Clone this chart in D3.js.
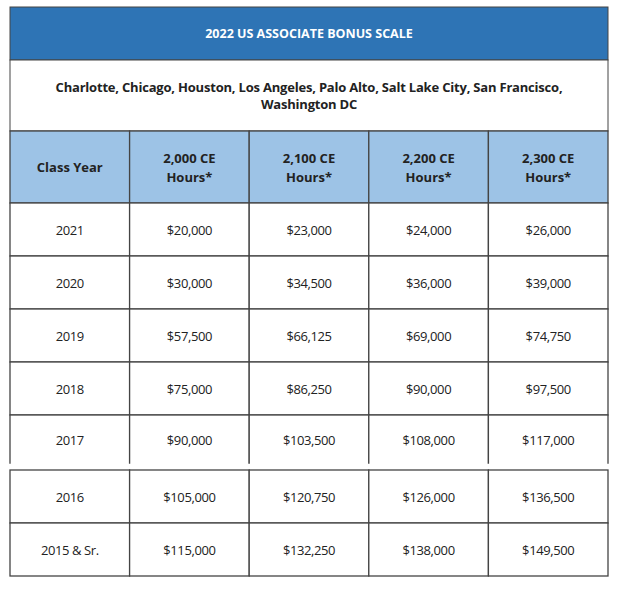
<!DOCTYPE html>
<html><head><meta charset="utf-8">
<script src="https://cdn.jsdelivr.net/npm/d3@7"></script>
<style>body{margin:0;background:#fff;} text{font-family:"Open Sans",sans-serif;fill:#222;}</style>
</head><body><svg id="svg"></svg>
<script>
const title = '2022 US ASSOCIATE BONUS SCALE';
const cities = ['Charlotte, Chicago, Houston, Los Angeles, Palo Alto, Salt Lake City, San Francisco,', 'Washington DC'];
const headers = [['Class Year'], ['2,000 CE', 'Hours*'], ['2,100 CE', 'Hours*'], ['2,200 CE', 'Hours*'], ['2,300 CE', 'Hours*']];
const classYears = ['2021', '2020', '2019', '2018', '2017', '2016', '2015 & Sr.'];
const bonus2000 = [20000, 30000, 57500, 75000, 90000, 105000, 115000];
const bonus2100 = [23000, 34500, 66125, 86250, 103500, 120750, 132250];
const bonus2200 = [24000, 36000, 69000, 90000, 108000, 126000, 138000];
const bonus2300 = [26000, 39000, 74750, 97500, 117000, 136500, 149500];

const svg = d3.select('#svg').attr('width', 620).attr('height', 593);
const left = 10, right = 608;
const x = d3.scaleBand().domain(d3.range(5)).range([left, right]);
const rowTop = [203, 256, 309, 362, 415, 470, 523];
const rowH = 53;
const fmt = v => '$' + d3.format(',')(v);
const stroke = '#444';

// title band
svg.append('rect').attr('x', left).attr('y', 7).attr('width', right - left).attr('height', 53)
	.attr('fill', '#2e74b5').attr('stroke', stroke);
svg.append('text').attr('x', (left + right) / 2).attr('y', 38).attr('text-anchor', 'middle')
	.style('fill', '#fff').style('font-weight', 'bold').style('font-size', '12.5px').text(title);

// cities
svg.append('rect').attr('x', left).attr('y', 60).attr('width', right - left).attr('height', 71)
	.attr('fill', '#fff').attr('stroke', stroke);
svg.selectAll('text.city').data(cities).enter().append('text')
	.attr('x', (left + right) / 2).attr('y', (d, i) => 92 + i * 17).attr('text-anchor', 'middle')
	.style('font-weight', 'bold').style('font-size', '13px').style('letter-spacing', '-0.2px').text(d => d);

// header row
const head = svg.selectAll('g.head').data(headers).enter().append('g');
head.append('rect').attr('x', (d, i) => x(i)).attr('y', 131).attr('width', x.bandwidth()).attr('height', 72)
	.attr('fill', '#9dc3e6').attr('stroke', stroke).attr('stroke-width', 1.3);
head.each(function(lines, i) {
	d3.select(this).selectAll('text').data(lines).enter().append('text')
		.attr('x', x(i) + x.bandwidth() / 2)
		.attr('y', (d, j) => 172 + (j - (lines.length - 1) / 2) * 19)
		.attr('text-anchor', 'middle').style('font-weight', 'bold').style('font-size', '13px').text(d => d);
});

// body rows
const rows = classYears.map((y, i) => [y, fmt(bonus2000[i]), fmt(bonus2100[i]), fmt(bonus2200[i]), fmt(bonus2300[i])]);
const rowG = svg.selectAll('g.row').data(rows).enter().append('g')
	.attr('transform', (d, i) => `translate(0, ${rowTop[i]})`);
rowG.each(function(cells, r) {
	const g = d3.select(this);
	const h = r === 4 ? 50 : rowH;
	g.selectAll('rect').data(cells).enter().append('rect')
		.attr('x', (d, i) => x(i)).attr('y', 0).attr('width', x.bandwidth()).attr('height', h)
		.attr('fill', '#fff').attr('stroke', stroke).attr('stroke-width', 1.3);
	g.selectAll('text').data(cells).enter().append('text')
		.attr('x', (d, i) => x(i) + x.bandwidth() / 2).attr('y', h / 2 + 5)
		.attr('text-anchor', 'middle').style('font-size', '13px').style('letter-spacing', '-0.4px').text(d => d);
	if (r === 4) // the 2017 row is open at the bottom
		g.append('line').attr('x1', left - 2).attr('x2', right + 2).attr('y1', h).attr('y2', h)
			.attr('stroke', '#fff').attr('stroke-width', 2.5);
});
</script></body></html>
